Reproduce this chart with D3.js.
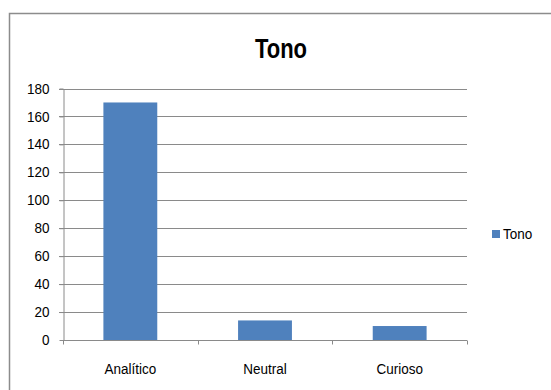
<!DOCTYPE html>
<html><head><meta charset="utf-8">
<script src="https://cdn.jsdelivr.net/npm/d3@7"></script>
<style>body{margin:0;background:#fff}svg{display:block}</style>
</head><body>
<script>
const categories = ["Analítico", "Neutral", "Curioso"];
const values = [170, 14, 10];
const yTicks = [0, 20, 40, 60, 80, 100, 120, 140, 160, 180];
const seriesName = "Tono";
const title = "Tono";

const W = 551, H = 390;
const svg = d3.select("body").append("svg").attr("width", W).attr("height", H);
const font = "'Liberation Sans', Arial, sans-serif";

// outer border
svg.append("rect").attr("x", 9.5).attr("y", 13.5).attr("width", 560).attr("height", 400)
  .attr("fill", "none").attr("stroke", "#8c8c8c").attr("stroke-width", 1.5);

const x = d3.scaleBand().domain(categories).range([63, 467]).paddingInner(0.6).paddingOuter(0.3);
const y = d3.scaleLinear().domain([0, 180]).range([340, 88.5]);

// gridlines
svg.append("g").selectAll("line").data(yTicks.filter(d => d > 0)).join("line")
  .attr("x1", 59).attr("x2", 467)
  .attr("y1", d => Math.round(y(d)) + 0.5).attr("y2", d => Math.round(y(d)) + 0.5)
  .attr("stroke", "#8a8a8a").attr("stroke-width", 1);

// y axis
const yAxis = svg.append("g").attr("transform", "translate(63.5,0)")
  .call(d3.axisLeft(y).tickValues(yTicks).tickSize(4).tickSizeOuter(0).tickPadding(10));
yAxis.select(".domain").attr("stroke", "#8a8a8a");
yAxis.selectAll(".tick line").attr("stroke", "#8a8a8a");
yAxis.selectAll(".tick text").attr("font-family", font).attr("font-size", 13.5).attr("fill", "#000")
  .attr("transform", "scale(1,1.06)");

// bars
svg.append("g").selectAll("rect").data(values).join("rect")
  .attr("x", (d, i) => x(categories[i]))
  .attr("width", x.bandwidth())
  .attr("y", d => y(d))
  .attr("height", d => y(0) - y(d))
  .attr("fill", "#4f81bd");

// x axis
const xAxis = svg.append("g").attr("transform", "translate(0,340.5)");
xAxis.append("line").attr("x1", 63).attr("x2", 467).attr("stroke", "#8a8a8a");
const bounds = d3.range(categories.length + 1).map(i => 63 + i * (404 / categories.length));
xAxis.selectAll("line.t").data(bounds).join("line").attr("class", "t")
  .attr("x1", d => Math.round(d) + 0.5).attr("x2", d => Math.round(d) + 0.5)
  .attr("y1", 0).attr("y2", 4).attr("stroke", "#8a8a8a");
xAxis.selectAll("text").data(categories).join("text")
  .attr("transform", d => `translate(${x(d) + x.bandwidth() / 2},33.5) scale(1,1.1)`)
  .attr("text-anchor", "middle").attr("font-family", font).attr("font-size", 13.5)
  .text(d => d);

// title
svg.append("text").attr("transform", "translate(281,58) scale(1,1.27)").attr("text-anchor", "middle")
  .attr("font-family", font)
  .attr("font-weight", "bold").attr("font-size", 22).text(title);

// legend
svg.append("rect").attr("x", 492).attr("y", 230).attr("width", 8).attr("height", 8).attr("fill", "#4f81bd");
svg.append("text").attr("transform", "translate(503,238.5) scale(1,1.08)").attr("font-family", font).attr("font-size", 13.5).text(seriesName);
</script>
</body></html>
